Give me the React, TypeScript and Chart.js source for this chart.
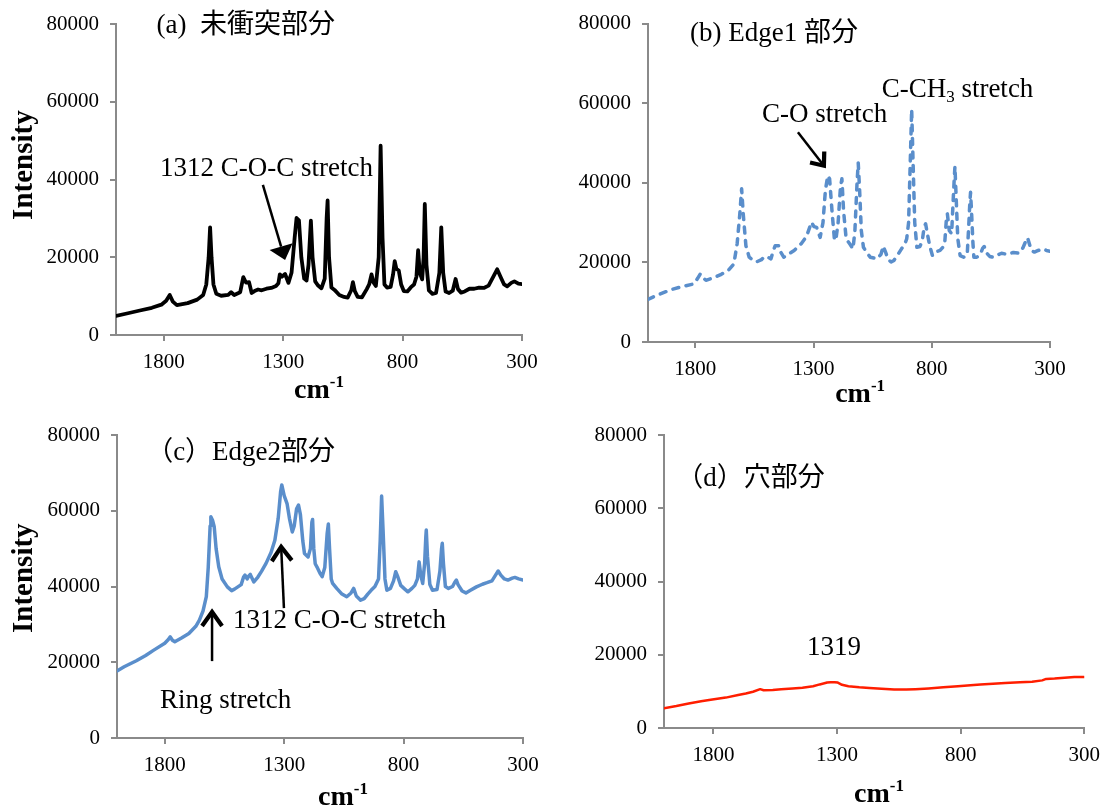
import React, { useEffect, useRef } from 'react';
import { Chart, registerables } from 'chart.js';
Chart.register(...registerables);

// ---------- data ----------
const X_TICKS = [1800, 1300, 800, 300];
const Y_TICKS = [0, 20000, 40000, 60000, 80000];

const waveA = [2000,1950,1900,1850,1810,1790,1775,1762,1745,1700,1660,1635,1622,1612,1606,1600,1592,1580,1560,1530,1518,1505,1480,1467,1456,1443,1432,1420,1405,1390,1370,1350,1330,1320,1314,1305,1292,1278,1265,1252,1244,1234,1224,1212,1202,1194,1184,1177,1166,1155,1140,1126,1118,1114,1108,1098,1085,1065,1045,1030,1015,1008,1000,988,970,950,940,930,922,912,900,892,884,876,865,850,840,833,826,816,806,795,780,765,752,742,735,728,718,712,707,700,690,675,660,646,638,630,620,605,590,578,568,555,540,520,500,480,460,440,420,404,390,375,362,345,332,315,300];
const intenA = [4900,5600,6300,7000,7800,8800,10300,8600,7700,8200,9100,10300,13000,20000,27700,20000,13000,10600,10100,10300,11000,10300,11000,14900,13500,13600,10800,11300,11700,11500,11900,12100,12600,13300,15600,15000,15700,13400,16000,25000,30100,29500,20000,14500,14000,18000,29400,20000,13800,12800,12000,14500,30000,34600,20000,12200,11600,10300,9800,9600,11500,13600,11300,9800,9700,11800,13000,15600,13500,12600,20000,48700,25000,13000,12200,12400,15500,19000,17000,16600,13000,11300,11200,12300,13000,15000,21800,16000,14300,20000,33700,18000,11500,10600,10800,16000,27700,16000,11200,10800,11400,14400,11800,10900,11200,11900,11900,12200,12100,12700,15000,16900,15000,13000,12500,13400,13800,13200,13100];

const waveB = [2000,1960,1900,1850,1806,1790,1779,1768,1755,1720,1690,1659,1637,1623,1612,1604,1597,1586,1572,1555,1542,1520,1506,1490,1480,1470,1462,1447,1438,1426,1400,1382,1352,1330,1315,1309,1298,1287,1272,1260,1250,1240,1232,1222,1212,1206,1196,1186,1180,1173,1162,1145,1133,1125,1116,1111,1105,1098,1089,1075,1060,1031,1015,1005,995,985,972,960,945,928,915,906,898,891,885,879,872,863,850,840,832,826,818,808,797,780,765,753,745,738,734,726,716,710,705,702,698,690,680,665,650,643,639,636,632,626,622,610,595,585,578,570,555,541,525,505,480,455,431,415,405,395,385,375,366,350,329,315,300];
const intenB = [10700,11800,13200,14000,14600,16000,17100,16200,15500,16200,17000,18100,19600,24700,32000,38500,32000,24200,21300,20500,20100,20700,21500,21200,20900,23000,24200,24200,22500,21300,22300,23000,24700,26500,29000,30100,29000,28800,26300,30000,38000,41800,41000,33000,26000,25500,30000,39000,41000,33000,25900,24500,23400,28000,40000,45000,38000,28000,23800,22500,21300,20900,22000,24100,22500,20800,20100,20500,21800,23400,24500,25900,30000,45000,58500,45000,30000,23800,24000,25500,29000,29700,27000,24000,21700,22700,23000,23800,25000,31000,32200,28000,27200,35000,41000,44100,38000,26000,21700,21300,22000,30000,35000,37600,33000,25000,21300,21300,22000,23500,24000,22500,21500,21300,21800,22300,22000,22500,22300,23600,25000,26200,24200,22800,22600,23000,23400,23000,22800];

const waveC = [2000,1970,1919,1880,1846,1800,1785,1777,1768,1758,1730,1699,1670,1655,1640,1626,1618,1610,1607,1600,1593,1585,1574,1560,1538,1520,1508,1494,1480,1470,1464,1455,1448,1442,1427,1410,1395,1376,1355,1339,1325,1315,1310,1300,1288,1278,1266,1258,1248,1240,1232,1222,1215,1200,1190,1184,1181,1176,1170,1163,1150,1141,1130,1120,1115,1110,1103,1097,1080,1060,1038,1020,1009,998,980,965,950,936,920,914,905,898,892,886,878,870,855,842,833,824,812,795,782,765,753,742,735,728,720,712,707,705,700,690,679,660,648,641,638,633,625,612,595,585,579,572,555,539,520,495,470,451,430,415,404,393,378,363,345,334,318,300];
const intenC = [17700,18800,20400,21800,23200,25000,26000,26700,25800,25400,26400,27600,29500,31100,33500,37300,45000,56000,58400,57500,55800,50000,45200,42000,39900,38900,39300,39900,40500,42500,43000,42000,42800,43200,41200,42500,44000,46100,49000,52200,58000,65000,66800,64000,61900,58000,54400,56000,60500,61500,59000,52000,48700,47800,50000,57000,57700,50000,46000,45200,43500,42600,45000,54000,56500,50000,42000,40800,39500,38100,37300,38300,39500,37500,36400,36800,38000,39000,40000,40800,42000,52000,63900,55000,42000,39000,39500,41500,43900,42500,40300,39300,38600,39500,40300,42000,46500,43000,40800,46000,53000,54900,48000,40500,39000,39200,44000,50000,51400,46000,40000,39500,40000,41200,41700,40500,38800,38300,39000,39900,40600,41000,41500,43000,44100,43000,42000,41700,42200,42400,42000,41700];

const waveD = [2000,1950,1900,1850,1811,1750,1700,1669,1640,1611,1597,1560,1526,1480,1440,1397,1370,1340,1326,1310,1297,1280,1254,1210,1169,1120,1069,1020,983,930,870,811,760,720,669,620,560,511,470,454,420,380,340,300];
const intenD = [5400,6000,6700,7300,7700,8300,9000,9400,9900,10600,10300,10400,10600,10800,11000,11400,11900,12400,12500,12500,12400,11800,11400,11100,10900,10700,10500,10500,10600,10800,11100,11400,11700,11900,12100,12300,12500,12600,13000,13400,13500,13700,13900,13900];

// ---------- styling / layout ----------
const W = 1109;
const H = 805;
const AXIS_COLOR = '#8a8a8a';
const FAMILY = '"Liberation Serif", "Noto Sans CJK JP", serif';

type Seg = { t: string; sub?: boolean; sup?: boolean };
type TextItem = { segs: Seg[]; x: number; y: number; size: number; bold?: boolean; align?: 'left' | 'center' | 'right' };
type ArrowItem = { x1: number; y1: number; x2: number; y2: number; kind: 'filled' | 'chevron'; len: number; half: number; lw: number };
type Panel = {
  wave: number[]; inten: number[];
  color: string; width: number; dash?: number[];
  box: { L: number; R: number; T: number; B: number };
  texts: TextItem[]; arrows: ArrowItem[];
  intensity?: { dx: number; y: number };
  cm: { x: number; dy: number };
};

const PANELS: Panel[] = [
  {
    wave: waveA, inten: intenA, color: '#000000', width: 3.8,
    box: { L: 116, R: 522, T: 24, B: 335 },
    texts: [
      { segs: [{ t: '(a)  未衝突部分' }], x: 1830, y: 80000, size: 27 },
      { segs: [{ t: '1312 C-O-C stretch' }], x: 1816, y: 43200, size: 27 },
    ],
    arrows: [{ x1: 1385, y1: 38600, x2: 1292, y2: 19300, kind: 'filled', len: 14, half: 12, lw: 2.5 }],
    intensity: { dx: -91, y: 43700 },
    cm: { x: 1150, dy: 53 },
  },
  {
    wave: waveB, inten: intenB, color: '#5a8ecb', width: 3.5, dash: [6, 7.5],
    box: { L: 648, R: 1050, T: 23, B: 342 },
    texts: [
      { segs: [{ t: '(b) Edge1 部分' }], x: 1822, y: 78000, size: 27 },
      { segs: [{ t: 'C-CH' }, { t: '3', sub: true }, { t: ' stretch' }], x: 1012, y: 63900, size: 27 },
      { segs: [{ t: 'C-O stretch' }], x: 1518, y: 57700, size: 27 },
    ],
    arrows: [{ x1: 1366, y1: 52700, x2: 1251, y2: 43900, kind: 'chevron', len: 13, half: 9, lw: 2.5 }],
    cm: { x: 1103, dy: 50 },
  },
  {
    wave: waveC, inten: intenC, color: '#5a8ecb', width: 3.5,
    box: { L: 117, R: 523, T: 435, B: 738 },
    texts: [
      { segs: [{ t: '（c）Edge2部分' }], x: 1878, y: 75800, size: 27 },
      { segs: [{ t: '1312 C-O-C stretch' }], x: 1514, y: 31400, size: 27 },
      { segs: [{ t: 'Ring stretch' }], x: 1820, y: 10300, size: 27 },
    ],
    arrows: [
      { x1: 1301, y1: 34300, x2: 1313, y2: 51000, kind: 'chevron', len: 16, half: 10, lw: 2.5 },
      { x1: 1602, y1: 20300, x2: 1602, y2: 33800, kind: 'chevron', len: 16, half: 10, lw: 2.5 },
    ],
    intensity: { dx: -92, y: 42200 },
    cm: { x: 1054, dy: 57 },
  },
  {
    wave: waveD, inten: intenD, color: '#ff1e00', width: 2.5,
    box: { L: 664, R: 1086, T: 435, B: 728 },
    texts: [
      { segs: [{ t: '（d）穴部分' }], x: 1950, y: 68500, size: 27 },
      { segs: [{ t: '1319' }], x: 1312, y: 22400, size: 27, align: 'center' },
    ],
    arrows: [],
    cm: { x: 1130, dy: 64 },
  },
];

// ---------- drawing helpers ----------
function fontFor(size: number, bold: boolean, small: boolean) {
  const s = small ? Math.round(size * 0.62) : size;
  return `${bold ? 'bold ' : ''}${s}px ${FAMILY}`;
}

function drawRich(ctx: CanvasRenderingContext2D, segs: Seg[], cx: number, cy: number, size: number, bold: boolean, align: string) {
  let total = 0;
  const widths = segs.map((s) => {
    ctx.font = fontFor(size, bold, !!(s.sub || s.sup));
    const w = ctx.measureText(s.t).width;
    total += w;
    return w;
  });
  let x = align === 'center' ? cx - total / 2 : align === 'right' ? cx - total : cx;
  const base = cy + size * 0.34;
  ctx.textAlign = 'left';
  ctx.textBaseline = 'alphabetic';
  segs.forEach((s, i) => {
    ctx.font = fontFor(size, bold, !!(s.sub || s.sup));
    const dy = s.sub ? size * 0.18 : s.sup ? -size * 0.36 : 0;
    ctx.fillText(s.t, x, base + dy);
    x += widths[i];
  });
}

function drawArrow(ctx: CanvasRenderingContext2D, a: ArrowItem, x1: number, y1: number, x2: number, y2: number) {
  const ang = Math.atan2(y2 - y1, x2 - x1);
  const c = Math.cos(ang);
  const s = Math.sin(ang);
  const bx = x2 - c * a.len;
  const by = y2 - s * a.len;
  ctx.lineCap = 'butt';
  ctx.lineWidth = a.lw;
  if (a.kind === 'filled') {
    ctx.beginPath();
    ctx.moveTo(x1, y1);
    ctx.lineTo(bx, by);
    ctx.stroke();
    ctx.beginPath();
    ctx.moveTo(x2, y2);
    ctx.lineTo(bx - s * a.half, by + c * a.half);
    ctx.lineTo(bx + s * a.half, by - c * a.half);
    ctx.closePath();
    ctx.fill();
  } else {
    ctx.beginPath();
    ctx.moveTo(x1, y1);
    ctx.lineTo(x2 - c * 2, y2 - s * 2);
    ctx.stroke();
    ctx.lineWidth = a.lw * 1.7;
    ctx.lineJoin = 'miter';
    ctx.beginPath();
    ctx.moveTo(bx - s * a.half, by + c * a.half);
    ctx.lineTo(x2 - c * 2, y2 - s * 2);
    ctx.lineTo(bx + s * a.half, by - c * a.half);
    ctx.stroke();
  }
}

function makeAnnotPlugin(p: Panel) {
  return {
    id: 'annot',
    afterDraw(chart: any) {
      const { ctx, chartArea } = chart;
      const xs = chart.scales.x;
      const ys = chart.scales.y;
      ctx.save();
      ctx.fillStyle = '#000';
      ctx.strokeStyle = '#000';
      p.texts.forEach((t) => {
        drawRich(ctx, t.segs, xs.getPixelForValue(t.x), ys.getPixelForValue(t.y), t.size, !!t.bold, t.align || 'left');
      });
      p.arrows.forEach((a) => {
        drawArrow(ctx, a, xs.getPixelForValue(a.x1), ys.getPixelForValue(a.y1), xs.getPixelForValue(a.x2), ys.getPixelForValue(a.y2));
      });
      if (p.intensity) {
        ctx.save();
        ctx.translate(chartArea.left + p.intensity.dx, ys.getPixelForValue(p.intensity.y));
        ctx.rotate(-Math.PI / 2);
        ctx.font = `bold 29px ${FAMILY}`;
        ctx.textAlign = 'center';
        ctx.textBaseline = 'middle';
        ctx.fillText('Intensity', 0, 0);
        ctx.restore();
      }
      drawRich(ctx, [{ t: 'cm' }, { t: '-1', sup: true }], xs.getPixelForValue(p.cm.x), chartArea.bottom + p.cm.dy, 28, true, 'center');
      ctx.restore();
    },
  };
}

function buildConfig(p: Panel): any {
  const tickFont = { family: FAMILY, size: 21 };
  const data = p.wave.map((w, i) => ({ x: w, y: p.inten[i] }));
  return {
    type: 'line',
    data: {
      datasets: [
        {
          data,
          borderColor: p.color,
          borderWidth: p.width,
          borderDash: p.dash || [],
          borderCapStyle: 'round',
          borderJoinStyle: 'round',
          pointRadius: 0,
          tension: 0,
          fill: false,
        },
      ],
    },
    options: {
      responsive: false,
      animation: false,
      events: [],
      layout: { padding: { left: 0, top: p.box.T, right: W - p.box.R, bottom: 0 } },
      plugins: { legend: { display: false }, tooltip: { enabled: false }, title: { display: false } },
      scales: {
        x: {
          type: 'linear',
          min: 300,
          max: 2000,
          reverse: true,
          afterBuildTicks: (s: any) => { s.ticks = X_TICKS.map((v) => ({ value: v })); },
          afterFit: (s: any) => { s.height = H - p.box.B; },
          ticks: { callback: (v: any) => String(v), font: tickFont, color: '#000', padding: 9, autoSkip: false, maxRotation: 0 },
          grid: { drawOnChartArea: false, drawTicks: true, tickLength: 6, color: AXIS_COLOR, lineWidth: 2 },
          border: { display: true, color: AXIS_COLOR, width: 2 },
        },
        y: {
          type: 'linear',
          min: 0,
          max: 80000,
          afterBuildTicks: (s: any) => { s.ticks = Y_TICKS.map((v) => ({ value: v })); },
          afterFit: (s: any) => { s.width = p.box.L; },
          ticks: { callback: (v: any) => String(v), font: tickFont, color: '#000', padding: 11 },
          grid: { drawOnChartArea: false, drawTicks: true, tickLength: 6, color: AXIS_COLOR, lineWidth: 2 },
          border: { display: true, color: AXIS_COLOR, width: 2 },
        },
      },
    },
    plugins: [makeAnnotPlugin(p)],
  };
}

function PanelCanvas({ panel }: { panel: Panel }) {
  const ref = useRef<HTMLCanvasElement | null>(null);
  useEffect(() => {
    if (!ref.current) return;
    const chart = new Chart(ref.current, buildConfig(panel));
    return () => chart.destroy();
  }, [panel]);
  return <canvas ref={ref} width={W} height={H} style={{ position: 'absolute', left: 0, top: 0, width: W, height: H }} />;
}

export default function App() {
  return (
    <div style={{ position: 'fixed', left: 0, top: 0, width: W, height: H, background: '#fff', overflow: 'hidden' }}>
      {PANELS.map((p, i) => (
        <PanelCanvas key={i} panel={p} />
      ))}
    </div>
  );
}
